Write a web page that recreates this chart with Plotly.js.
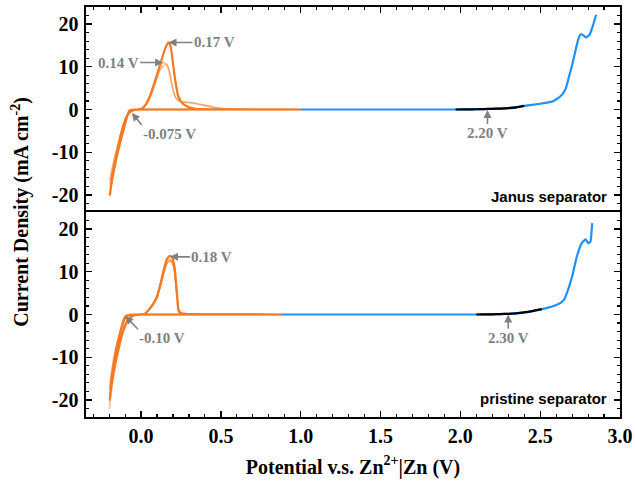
<!DOCTYPE html>
<html>
<head>
<meta charset="utf-8">
<script src="https://cdn.plot.ly/plotly-3.0.1.min.js"></script>
<style>html,body{margin:0;padding:0;background:#fff;}#chart{width:635px;height:484px;}</style>
</head>
<body>
<div id="chart"></div>
<script>
// ---------- Data ----------
// Janus separator, CV cycles (potential V, current density mA cm^-2)
const janusCycle1V = [1.0, 0.6, 0.3, 0.1, 0.0, -0.04, -0.065, -0.075, -0.09, -0.11, -0.13, -0.15, -0.17, -0.185, -0.195, -0.185, -0.17, -0.15, -0.13, -0.11, -0.09, -0.07, -0.05, -0.02, 0.0, 0.03, 0.06, 0.09, 0.12, 0.15, 0.165, 0.172, 0.185, 0.2, 0.215, 0.233, 0.26, 0.3, 0.34, 0.45, 0.7, 1.0];
const janusCycle1J = [0, 0, 0, 0, 0, -0.05, -0.15, -0.35, -2.0, -4.8, -7.6, -10.6, -14.3, -17.3, -20, -16.8, -13.5, -9.8, -6.4, -3.6, -1.6, -0.6, -0.2, 0, 0.1, 1.2, 3.6, 7.0, 10.6, 14.2, 15.4, 15.7, 14.8, 10.8, 6.6, 3.1, 1.4, 0.5, 0.15, 0.05, 0, 0];
const janusCycle2V = [1.0, 0.6, 0.3, 0.1, 0.0, -0.04, -0.065, -0.08, -0.1, -0.12, -0.14, -0.16, -0.18, -0.197, -0.185, -0.17, -0.15, -0.13, -0.11, -0.09, -0.07, -0.05, -0.02, 0.0, 0.03, 0.06, 0.09, 0.12, 0.14, 0.16, 0.175, 0.19, 0.205, 0.22, 0.25, 0.3, 0.35, 0.4, 0.45, 0.5, 0.6, 1.0];
const janusCycle2J = [0, 0, 0, 0, 0, -0.05, -0.2, -0.8, -3.2, -6.0, -8.8, -11.6, -14.3, -16.5, -14.4, -11.8, -8.8, -6.0, -3.5, -1.6, -0.6, -0.2, 0, 0.1, 1.1, 3.3, 6.5, 9.8, 11.0, 10.6, 9.0, 6.2, 3.8, 2.6, 1.9, 1.7, 1.4, 1.0, 0.6, 0.3, 0.1, 0];
const janusCycle3V = [1.0, 0.6, 0.3, 0.1, 0.0, -0.04, -0.065, -0.08, -0.1, -0.12, -0.14, -0.16, -0.18, -0.196, -0.185, -0.17, -0.15, -0.13, -0.11, -0.09, -0.07, -0.05, -0.02, 0.0, 0.03, 0.06, 0.09, 0.12, 0.15, 0.165, 0.18, 0.195, 0.21, 0.225, 0.25, 0.3, 0.35, 0.4, 0.45, 0.5, 0.6, 1.0];
const janusCycle3J = [0, 0, 0, 0, 0, -0.05, -0.25, -1.0, -3.4, -6.3, -9.3, -12.3, -15.2, -17.5, -15.0, -12.3, -9.2, -6.3, -3.7, -1.7, -0.7, -0.2, 0, 0.1, 1.0, 3.1, 6.2, 9.3, 10.5, 10.3, 8.6, 5.6, 3.4, 2.4, 1.8, 1.6, 1.3, 0.9, 0.5, 0.25, 0.1, 0];
// Janus separator, LSV
const janusLsvV = [1.0, 1.3, 1.6, 1.9, 1.97, 2.05, 2.1, 2.15, 2.2, 2.25, 2.3, 2.35, 2.4, 2.45, 2.5, 2.55, 2.58, 2.61, 2.64, 2.66, 2.68, 2.70, 2.72, 2.74, 2.755, 2.77, 2.785, 2.80, 2.81, 2.83, 2.85];
const janusLsvJ = [0, 0, 0, 0, 0, 0.03, 0.06, 0.1, 0.15, 0.22, 0.32, 0.5, 0.85, 1.1, 1.35, 1.65, 1.95, 2.6, 3.6, 4.9, 7.6, 10.4, 13.6, 16.6, 17.6, 17.4, 16.9, 17.2, 17.6, 19.6, 22.2];
const janusOnsetRange = [1.97, 2.4];

// Pristine separator, CV cycles
const pristineCycle1V = [0.88, 0.6, 0.3, 0.1, 0.0, -0.05, -0.08, -0.1, -0.12, -0.14, -0.16, -0.175, -0.188, -0.196, -0.185, -0.17, -0.15, -0.13, -0.11, -0.09, -0.07, -0.05, -0.03, 0.0, 0.02, 0.05, 0.08, 0.1, 0.12, 0.14, 0.16, 0.175, 0.185, 0.197, 0.21, 0.22, 0.228, 0.235, 0.25, 0.3, 0.45, 0.88];
const pristineCycle1J = [0, 0, 0, 0, 0, -0.05, -0.15, -0.5, -2.6, -5.6, -9.2, -12.6, -16.2, -20, -16.5, -13.0, -9.4, -6.2, -3.6, -1.8, -0.8, -0.3, -0.1, 0, 0.1, 1.2, 2.8, 4.3, 7.0, 10.2, 12.8, 13.6, 13.7, 13.1, 11.0, 7.0, 3.5, 1.0, 0.3, 0.1, 0.05, 0];
const pristineCycle2V = [0.88, 0.6, 0.3, 0.1, 0.0, -0.05, -0.08, -0.1, -0.12, -0.14, -0.16, -0.175, -0.19, -0.198, -0.188, -0.17, -0.15, -0.13, -0.11, -0.09, -0.07, -0.05, -0.03, 0.0, 0.02, 0.05, 0.08, 0.1, 0.12, 0.14, 0.16, 0.172, 0.182, 0.195, 0.208, 0.218, 0.226, 0.234, 0.25, 0.3, 0.45, 0.88];
const pristineCycle2J = [0, 0, 0, 0, 0, -0.05, -0.2, -0.7, -3.0, -6.3, -10.2, -13.8, -18.0, -22.0, -18.5, -14.0, -10.2, -6.8, -4.0, -2.0, -0.9, -0.35, -0.1, 0, 0.1, 1.1, 2.6, 4.0, 6.6, 9.6, 12.1, 12.9, 13.0, 12.4, 10.4, 6.6, 3.3, 1.0, 0.3, 0.1, 0.05, 0];
const pristineCycle3V = [0.88, 0.6, 0.3, 0.1, 0.0, -0.05, -0.08, -0.1, -0.12, -0.14, -0.16, -0.175, -0.188, -0.195, -0.185, -0.17, -0.15, -0.13, -0.11, -0.09, -0.07, -0.05, -0.03, 0.0, 0.02, 0.05, 0.08, 0.1, 0.12, 0.14, 0.16, 0.175, 0.185, 0.197, 0.21, 0.22, 0.228, 0.235, 0.25, 0.3, 0.45, 0.88];
const pristineCycle3J = [0, 0, 0, 0, 0, -0.05, -0.3, -1.0, -3.0, -5.2, -8.2, -11.2, -14.5, -17.5, -14.8, -11.6, -8.4, -5.6, -3.2, -1.6, -0.7, -0.25, -0.1, 0, 0.1, 1.0, 2.5, 3.9, 6.4, 9.3, 11.8, 12.5, 12.6, 12.0, 10.1, 6.4, 3.2, 0.9, 0.3, 0.1, 0.05, 0];
// Pristine separator, LSV
const pristineLsvV = [0.88, 1.2, 1.6, 2.0, 2.1, 2.15, 2.2, 2.25, 2.3, 2.35, 2.4, 2.45, 2.51, 2.55, 2.6, 2.63, 2.65, 2.67, 2.70, 2.73, 2.76, 2.785, 2.80, 2.815, 2.822, 2.826];
const pristineLsvJ = [0, 0, 0, 0, 0, 0.02, 0.05, 0.1, 0.15, 0.28, 0.5, 0.8, 1.25, 1.6, 2.2, 2.8, 3.5, 5.3, 8.9, 13.6, 16.7, 17.6, 16.7, 17.1, 19.5, 21.4];
const pristineOnsetRange = [2.1, 2.51];

// Tick labels
const xTickVals = [0, 0.5, 1.0, 1.5, 2.0, 2.5, 3.0];
const xTickText = ["0.0", "0.5", "1.0", "1.5", "2.0", "2.5", "3.0"];
const yTickVals = [-20, -10, 0, 10, 20];
const yTickText = ["-20", "-10", "0", "10", "20"];

// Texts
const panelLabels = ["Janus separator", "pristine separator"];
const peakLabels = { janus: ["0.17 V", "0.14 V", "-0.075 V", "2.20 V"], pristine: ["0.18 V", "-0.10 V", "2.30 V"] };

// ---------- Styling ----------
const ORANGE = "#F47920";
const BLUE = "#1E90FF";
const GREY = "#808080";
const serif = "Liberation Serif, Times New Roman, serif";
const sans = "Liberation Sans, Arial, sans-serif";

function line(x, y, xa, ya, color, width, opacity) {
  return { x: x, y: y, xaxis: xa, yaxis: ya, type: "scatter", mode: "lines",
    line: { color: color, width: width, shape: "spline", smoothing: 0.5 }, opacity: opacity, hoverinfo: "skip", showlegend: false };
}
function segment(x, y, range) {
  const sx = [], sy = [];
  x.forEach((v, i) => { if (v >= range[0] && v <= range[1]) { sx.push(v); sy.push(y[i]); } });
  return [sx, sy];
}
const jSeg = segment(janusLsvV, janusLsvJ, janusOnsetRange);
const pSeg = segment(pristineLsvV, pristineLsvJ, pristineOnsetRange);

const traces = [
  line(janusCycle2V, janusCycle2J, "x", "y", ORANGE, 1.6, 0.45),
  line(janusCycle3V, janusCycle3J, "x", "y", ORANGE, 1.6, 0.45),
  line(janusCycle1V, janusCycle1J, "x", "y", ORANGE, 2.2, 1),
  line(janusLsvV, janusLsvJ, "x", "y", BLUE, 2.2, 1),
  line(jSeg[0], jSeg[1], "x", "y", "#000000", 2.2, 1),
  line(pristineCycle2V, pristineCycle2J, "x2", "y2", ORANGE, 1.6, 0.45),
  line(pristineCycle3V, pristineCycle3J, "x2", "y2", ORANGE, 1.6, 0.75),
  line(pristineCycle1V, pristineCycle1J, "x2", "y2", ORANGE, 2.2, 1),
  line(pristineLsvV, pristineLsvJ, "x2", "y2", BLUE, 2.2, 1),
  line(pSeg[0], pSeg[1], "x2", "y2", "#000000", 2.2, 1)
];

const tickFont = { family: serif, size: 20, color: "#000", weight: "bold" };
const xBase = {
  range: [-0.345, 3.0], showgrid: false, zeroline: false, showline: true, linecolor: "#000", linewidth: 1.6,
  ticks: "inside", ticklen: 6, tickwidth: 1.3, tickcolor: "#000",
  tickmode: "array", tickvals: xTickVals, ticktext: xTickText, tickfont: tickFont,
  minor: { tick0: 0, dtick: 0.1, ticks: "inside", ticklen: 3, tickwidth: 1.1, tickcolor: "#000" }
};
const yBase = {
  range: [-24, 24], showgrid: false, zeroline: false, showline: true, linecolor: "#000", linewidth: 1.6,
  mirror: "ticks", ticks: "inside", ticklen: 6, tickwidth: 1.3, tickcolor: "#000",
  tickmode: "array", tickvals: yTickVals, ticktext: yTickText, tickfont: tickFont, ticklabelstandoff: 2,
  minor: { tick0: 0, dtick: 2, ticks: "inside", ticklen: 3, tickwidth: 1.1, tickcolor: "#000" }
};

const annFont = { family: serif, size: 15, color: GREY, weight: "bold" };
// Text label with an arrow whose tail sits on the label's anchor point
function callout(xref, yref, x, y, ax, ay, text, xanchor, yanchor) {
  return { xref: xref, yref: yref, x: x, y: y, ax: ax, ay: ay, axref: "pixel", ayref: "pixel", text: text,
    xanchor: xanchor, yanchor: yanchor, borderpad: 0, font: annFont,
    showarrow: true, arrowhead: 2, arrowsize: 1, arrowwidth: 1.6, arrowcolor: GREY, standoff: 0, startstandoff: 0 };
}

const annotations = [
  // Janus
  callout("x", "y", 0.172, 15.7, 24, 0, peakLabels.janus[0], "left", "middle"),
  callout("x", "y", 0.138, 11.0, -23, 0, peakLabels.janus[1], "right", "middle"),
  callout("x", "y", -0.058, -0.8, 10, 12, peakLabels.janus[2], "left", "top"),
  callout("x", "y", 2.17, -0.1, 0, 14, peakLabels.janus[3], "center", "top"),
  { xref: "x", yref: "y", x: 2.93, y: -20.4, text: panelLabels[0], showarrow: false, xanchor: "right", yanchor: "middle",
    font: { family: sans, size: 15, color: "#000", weight: "bold" } },
  // Pristine
  callout("x2", "y2", 0.181, 13.5, 20, 0, peakLabels.pristine[0], "left", "middle"),
  callout("x2", "y2", -0.1, -0.4, 13, 13, peakLabels.pristine[1], "left", "top"),
  callout("x2", "y2", 2.30, 0.0, 0, 14, peakLabels.pristine[2], "center", "top"),
  { xref: "x2", yref: "y2", x: 2.93, y: -19.6, text: panelLabels[1], showarrow: false, xanchor: "right", yanchor: "middle",
    font: { family: sans, size: 15, color: "#000", weight: "bold" } },
  // y-axis title shared across both panels
  { xref: "paper", yref: "paper", x: -0.124, y: 0.5, xanchor: "center", yanchor: "middle", textangle: -90, showarrow: false,
    text: "Current Density (mA cm<sup>-2</sup>)", font: { family: serif, size: 20, color: "#000", weight: "bold" } }
];

const layout = {
  width: 635, height: 484,
  margin: { l: 86, r: 15, t: 7, b: 67 },
  paper_bgcolor: "#fff", plot_bgcolor: "#fff",
  showlegend: false,
  xaxis: Object.assign({}, xBase, { anchor: "y", side: "top", showticklabels: false, mirror: false, domain: [0, 1] }),
  xaxis2: Object.assign({}, xBase, { anchor: "y2", side: "bottom", showticklabels: true, mirror: true, domain: [0, 1],
    title: { text: "Potential v.s. Zn<sup>2+</sup>|Zn (V)", font: { family: serif, size: 20, color: "#000", weight: "bold" }, standoff: 14 } }),
  yaxis: Object.assign({}, yBase, { anchor: "x", domain: [0.5, 1] }),
  yaxis2: Object.assign({}, yBase, { anchor: "x2", domain: [0, 0.5] }),
  annotations: annotations
};

Plotly.newPlot("chart", traces, layout, { displayModeBar: false, staticPlot: true }).then(function (gd) {
  // drop empty placeholder text nodes and Plotly's off-screen text-measuring helper
  gd.querySelectorAll("text").forEach(function (t) { if (!t.textContent.trim()) t.remove(); });
  const tester = document.getElementById("js-plotly-tester");
  if (tester) tester.remove();
});
</script>
</body>
</html>
